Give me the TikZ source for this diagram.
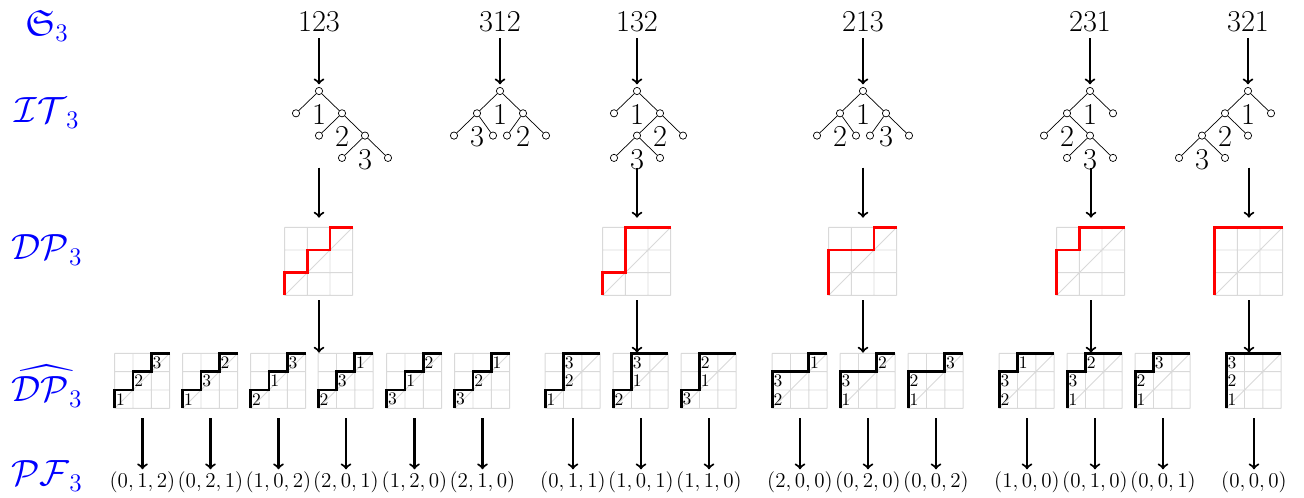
\documentclass[tikz,border=0pt]{standalone}
\usepackage{amssymb}
\tikzset{
  lf/.style={circle,draw,inner sep=0pt,minimum size=1.45mm},
  nd/.style={lf,label={[font=\LARGE,inner sep=0pt,yshift=-1.9mm]below:$#1$}},
  perm/.style={font=\LARGE},
  cls/.style={blue,font=\huge},
  map/.style={->,line width=1.2pt},
  gridline/.style={gray!30,line width=0.5pt},
  dp/.style={minimum size=1.36cm,inner sep=0pt},
  pf/.style={minimum size=1.1cm,inner sep=0pt},
  pfv/.style={font=\large,inner sep=1pt}
}
\newcommand\bigdyck[2]{\begin{scope}[shift={(#1.south west)},scale=0.4533]
  \draw[gridline] (0,0) grid (3,3) (0,0) -- (3,3);
  \draw[red,line width=1.6pt] (0,0) #2;
\end{scope}}
\newcommand\pfdyck[3]{\begin{scope}[shift={(#1.south west)},scale=0.3667]
  \draw[gridline] (0,0) grid (3,3) (0,0) -- (3,3);
  \draw[line width=1.6pt] (0,0) #2;
  \foreach \col/\lab [count=\row from 0] in {#3}
    \node[anchor=west,inner sep=0.6pt] at (\col,\row+0.5) {\lab};
\end{scope}}
\begin{document}
\begin{tikzpicture}[level distance=4.46mm, sibling distance=9.2mm]
\useasboundingbox (0,0) rectangle (26.08,-9.96);
% row names
\node[cls] (lS) at (0.94,-0.52) {$\mathfrak{S}_3$};
\node[cls] (lT) at (0.94,-2.26) {$\mathcal{IT}_3$};
\node[cls] (lD) at (0.94,-5.0) {$\mathcal{DP}_3$};
\node[cls] (lE) at (0.94,-7.72) {$\widehat{\mathcal{DP}_3}$};
\node[cls] (lF) at (0.94,-9.52) {$\mathcal{PF}_3$};

% permutations
\node[perm] (s1) at (6.38,-0.44) {123};
\node[perm] (s2) at (10.0,-0.44) {312};
\node[perm] (s3) at (12.74,-0.44) {132};
\node[perm] (s4) at (17.26,-0.44) {213};
\node[perm] (s5) at (21.8,-0.44) {231};
\node[perm] (s6) at (24.96,-0.44) {321};

% increasing trees
\node[nd=1] (t1) at (6.38,-1.82) {}
  child {node[lf] {}}
  child {node[nd=2] {}
    child {node[lf] {}}
    child {node[nd=3] {} child {node[lf] {}} child {node[lf] {}}}};
\node[nd=1] (t2) at (10.0,-1.82) {}
  child {node[nd=3] {} child {node[lf] {}} child {node[lf,xshift=-1.4mm] {}}}
  child {node[nd=2] {} child {node[lf,xshift=1.4mm] {}} child {node[lf] {}}};
\node[nd=1] (t3) at (12.74,-1.82) {}
  child {node[lf] {}}
  child {node[nd=2] {}
    child {node[nd=3] {} child {node[lf] {}} child {node[lf] {}}}
    child {node[lf] {}}};
\node[nd=1] (t4) at (17.26,-1.82) {}
  child {node[nd=2] {} child {node[lf] {}} child {node[lf,xshift=-1.4mm] {}}}
  child {node[nd=3] {} child {node[lf,xshift=1.4mm] {}} child {node[lf] {}}};
\node[nd=1] (t5) at (21.8,-1.82) {}
  child {node[nd=2] {}
    child {node[lf] {}}
    child {node[nd=3] {} child {node[lf] {}} child {node[lf] {}}}}
  child {node[lf] {}};
\node[nd=1] (t6) at (24.96,-1.82) {}
  child {node[nd=2] {}
    child {node[nd=3] {} child {node[lf] {}} child {node[lf] {}}}
    child {node[lf] {}}}
  child {node[lf] {}};

% Dyck paths
\node[dp] (d1) at (6.38,-5.22) {};
\node[dp] (d3) at (12.74,-5.22) {};
\node[dp] (d4) at (17.26,-5.22) {};
\node[dp] (d5) at (21.82,-5.22) {};
\node[dp] (d6) at (24.98,-5.22) {};
\bigdyck{d1}{|- (1,1) |- (2,2) |- (3,3)}
\bigdyck{d3}{|- (1,1) |- (3,3)}
\bigdyck{d4}{|- (2,2) |- (3,3)}
\bigdyck{d5}{|- (1,2) |- (3,3)}
\bigdyck{d6}{|- (3,3)}

% labelled Dyck paths
\node[pf] (e1) at (2.85,-7.61) {};
\node[pf] (e2) at (4.21,-7.61) {};
\node[pf] (e3) at (5.57,-7.61) {};
\node[pf] (e4) at (6.92,-7.61) {};
\node[pf] (e5) at (8.29,-7.61) {};
\node[pf] (e6) at (9.65,-7.61) {};
\node[pf] (e7) at (11.46,-7.61) {};
\node[pf] (e8) at (12.82,-7.61) {};
\node[pf] (e9) at (14.18,-7.61) {};
\node[pf] (e10) at (16.0,-7.61) {};
\node[pf] (e11) at (17.36,-7.61) {};
\node[pf] (e12) at (18.72,-7.61) {};
\node[pf] (e13) at (20.54,-7.61) {};
\node[pf] (e14) at (21.9,-7.61) {};
\node[pf] (e15) at (23.26,-7.61) {};
\node[pf] (e16) at (25.08,-7.61) {};
\pfdyck{e1}{|- (1,1) |- (2,2) |- (3,3)}{0/1,1/2,2/3}
\pfdyck{e2}{|- (1,1) |- (2,2) |- (3,3)}{0/1,1/3,2/2}
\pfdyck{e3}{|- (1,1) |- (2,2) |- (3,3)}{0/2,1/1,2/3}
\pfdyck{e4}{|- (1,1) |- (2,2) |- (3,3)}{0/2,1/3,2/1}
\pfdyck{e5}{|- (1,1) |- (2,2) |- (3,3)}{0/3,1/1,2/2}
\pfdyck{e6}{|- (1,1) |- (2,2) |- (3,3)}{0/3,1/2,2/1}
\pfdyck{e7}{|- (1,1) |- (3,3)}{0/1,1/2,1/3}
\pfdyck{e8}{|- (1,1) |- (3,3)}{0/2,1/1,1/3}
\pfdyck{e9}{|- (1,1) |- (3,3)}{0/3,1/1,1/2}
\pfdyck{e10}{|- (2,2) |- (3,3)}{0/2,0/3,2/1}
\pfdyck{e11}{|- (2,2) |- (3,3)}{0/1,0/3,2/2}
\pfdyck{e12}{|- (2,2) |- (3,3)}{0/1,0/2,2/3}
\pfdyck{e13}{|- (1,2) |- (3,3)}{0/2,0/3,1/1}
\pfdyck{e14}{|- (1,2) |- (3,3)}{0/1,0/3,1/2}
\pfdyck{e15}{|- (1,2) |- (3,3)}{0/1,0/2,1/3}
\pfdyck{e16}{|- (3,3)}{0/1,0/2,0/3}

% parking functions
\node[pfv] (f1) at (2.85,-9.64) {$(0,1,2)$};
\node[pfv] (f2) at (4.21,-9.64) {$(0,2,1)$};
\node[pfv] (f3) at (5.57,-9.64) {$(1,0,2)$};
\node[pfv] (f4) at (6.92,-9.64) {$(2,0,1)$};
\node[pfv] (f5) at (8.29,-9.64) {$(1,2,0)$};
\node[pfv] (f6) at (9.65,-9.64) {$(2,1,0)$};
\node[pfv] (f7) at (11.46,-9.64) {$(0,1,1)$};
\node[pfv] (f8) at (12.82,-9.64) {$(1,0,1)$};
\node[pfv] (f9) at (14.18,-9.64) {$(1,1,0)$};
\node[pfv] (f10) at (16.0,-9.64) {$(2,0,0)$};
\node[pfv] (f11) at (17.36,-9.64) {$(0,2,0)$};
\node[pfv] (f12) at (18.72,-9.64) {$(0,0,2)$};
\node[pfv] (f13) at (20.54,-9.64) {$(1,0,0)$};
\node[pfv] (f14) at (21.9,-9.64) {$(0,1,0)$};
\node[pfv] (f15) at (23.26,-9.64) {$(0,0,1)$};
\node[pfv] (f16) at (25.08,-9.64) {$(0,0,0)$};

% maps
\draw[map,shorten >=1.5pt] (s1) -- (t1);
\draw[map,shorten >=1.5pt] (s2) -- (t2);
\draw[map,shorten >=1.5pt] (s3) -- (t3);
\draw[map,shorten >=1.5pt] (s4) -- (t4);
\draw[map,shorten >=1.5pt] (s5) -- (t5);
\draw[map,shorten >=1.5pt] (s6) -- (t6);
\draw[map] ([yshift=1.18cm]d1.north) -- ([yshift=1.8mm]d1.north);
\draw[map] ([yshift=1.18cm]d3.north) -- ([yshift=1.8mm]d3.north);
\draw[map] ([yshift=1.18cm]d4.north) -- ([yshift=1.8mm]d4.north);
\draw[map] ([yshift=1.18cm]d5.north) -- ([yshift=1.8mm]d5.north);
\draw[map] ([yshift=1.18cm]d6.north) -- ([yshift=1.8mm]d6.north);
\draw[map] ([yshift=-1mm]d1.south) -- (d1.south |- e1.north);
\draw[map] ([yshift=-1mm]d3.south) -- (d3.south |- e8.north);
\draw[map] ([yshift=-1mm]d4.south) -- (d4.south |- e11.north);
\draw[map] ([yshift=-1mm]d5.south) -- (d5.south |- e14.north);
\draw[map] ([yshift=-1mm]d6.south) -- (d6.south |- e16.north);
\draw[map] ([yshift=-2mm]e1.south) -- (f1);
\draw[map] ([yshift=-2mm]e2.south) -- (f2);
\draw[map] ([yshift=-2mm]e3.south) -- (f3);
\draw[map] ([yshift=-2mm]e4.south) -- (f4);
\draw[map] ([yshift=-2mm]e5.south) -- (f5);
\draw[map] ([yshift=-2mm]e6.south) -- (f6);
\draw[map] ([yshift=-2mm]e7.south) -- (f7);
\draw[map] ([yshift=-2mm]e8.south) -- (f8);
\draw[map] ([yshift=-2mm]e9.south) -- (f9);
\draw[map] ([yshift=-2mm]e10.south) -- (f10);
\draw[map] ([yshift=-2mm]e11.south) -- (f11);
\draw[map] ([yshift=-2mm]e12.south) -- (f12);
\draw[map] ([yshift=-2mm]e13.south) -- (f13);
\draw[map] ([yshift=-2mm]e14.south) -- (f14);
\draw[map] ([yshift=-2mm]e15.south) -- (f15);
\draw[map] ([yshift=-2mm]e16.south) -- (f16);
\end{tikzpicture}
\end{document}
